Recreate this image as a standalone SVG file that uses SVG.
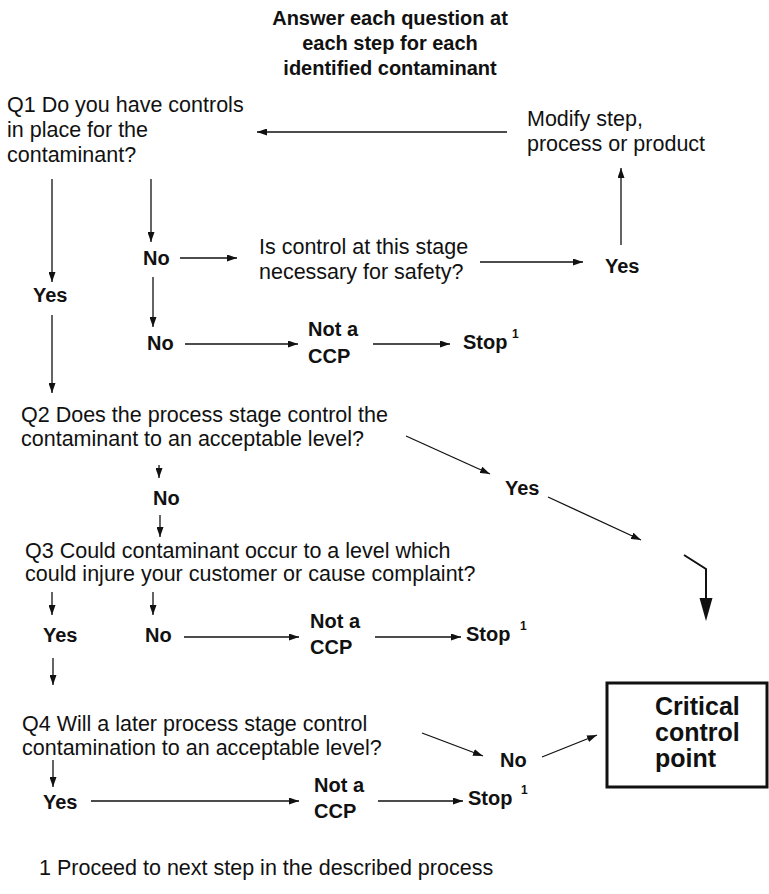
<svg xmlns="http://www.w3.org/2000/svg" width="769" height="894" viewBox="0 0 769 894">
<style>
text{font-family:"Liberation Sans",Arial,Helvetica,sans-serif;fill:#111}
.t{font-size:21.5px}
.b{font-size:20px;font-weight:bold}
.h{font-size:20px;font-weight:bold;text-anchor:middle}
.c{font-size:25px;font-weight:bold}
.s{font-size:12px;font-weight:bold}
.e line,.e polyline{stroke:#111;stroke-width:1.3;fill:none}
</style>
<defs>
<marker id="a" markerUnits="userSpaceOnUse" markerWidth="11" markerHeight="7" refX="10" refY="3.5" orient="auto">
<path d="M0,0 L10,3.5 L0,7 z" fill="#111"/>
</marker>
</defs>
<rect width="769" height="894" fill="#fff"/>
<g id="title">
<text class="h" x="390" y="25">Answer each question at</text>
<text class="h" x="390" y="50">each step for each</text>
<text class="h" x="390" y="75">identified contaminant</text>
</g>
<g id="q1">
<text class="t" x="7" y="112">Q1 Do you have controls</text>
<text class="t" x="7" y="137">in place for the</text>
<text class="t" x="7" y="162">contaminant?</text>
</g>
<g id="modify">
<text class="t" x="527" y="126">Modify step,</text>
<text class="t" x="527" y="151">process or product</text>
</g>
<g id="no1"><text class="b" x="143" y="265">No</text></g>
<g id="safety">
<text class="t" x="259" y="254">Is control at this stage</text>
<text class="t" x="259" y="279">necessary for safety?</text>
</g>
<g id="yes-q1"><text class="b" x="33" y="302">Yes</text></g>
<g id="yes-safety"><text class="b" x="605" y="273">Yes</text></g>
<g id="no2"><text class="b" x="147" y="350">No</text></g>
<g id="notccp1"><text class="b" x="308" y="336">Not a</text><text class="b" x="308" y="363">CCP</text></g>
<g id="stop1"><text class="b" x="463" y="349">Stop</text><text class="s" x="512" y="338">1</text></g>
<g id="q2">
<text class="t" x="21" y="422">Q2 Does the process stage control the</text>
<text class="t" x="21" y="446">contaminant to an acceptable level?</text>
</g>
<g id="yes-q2"><text class="b" x="505" y="495">Yes</text></g>
<g id="no-q2"><text class="b" x="153" y="505">No</text></g>
<g id="q3">
<text class="t" x="25" y="558">Q3 Could contaminant occur to a level which</text>
<text class="t" x="25" y="581">could injure your customer or cause complaint?</text>
</g>
<g id="yes-q3"><text class="b" x="43" y="642">Yes</text></g>
<g id="no-q3"><text class="b" x="145" y="642">No</text></g>
<g id="notccp2"><text class="b" x="310" y="628">Not a</text><text class="b" x="310" y="654">CCP</text></g>
<g id="stop2"><text class="b" x="466" y="641">Stop</text><text class="s" x="520" y="630">1</text></g>
<g id="q4">
<text class="t" x="22" y="731">Q4 Will a later process stage control</text>
<text class="t" x="22" y="755">contamination to an acceptable level?</text>
</g>
<g id="no-q4"><text class="b" x="500" y="767">No</text></g>
<g id="yes-q4"><text class="b" x="43" y="809">Yes</text></g>
<g id="notccp3"><text class="b" x="314" y="792">Not a</text><text class="b" x="314" y="818">CCP</text></g>
<g id="stop3"><text class="b" x="468" y="805">Stop</text><text class="s" x="521" y="794">1</text></g>
<g id="ccp">
<rect x="607" y="683" width="160" height="104" fill="#fff" stroke="#111" stroke-width="3"/>
<text class="c" x="655" y="715">Critical</text>
<text class="c" x="655" y="741">control</text>
<text class="c" x="655" y="767">point</text>
</g>
<g id="footnote"><text class="t" x="39" y="875">1 Proceed to next step in the described process</text></g>
<g id="connectors" class="e">
<line x1="507" y1="132" x2="257" y2="132" marker-end="url(#a)"/>
<line x1="621" y1="245" x2="621" y2="168" marker-end="url(#a)"/>
<line x1="52" y1="179" x2="52" y2="282" marker-end="url(#a)"/>
<line x1="151" y1="179" x2="151" y2="242" marker-end="url(#a)"/>
<line x1="180" y1="258" x2="237" y2="258" marker-end="url(#a)"/>
<line x1="480" y1="262" x2="583" y2="262" marker-end="url(#a)"/>
<line x1="153" y1="277" x2="153" y2="327" marker-end="url(#a)"/>
<line x1="185" y1="344" x2="298" y2="344" marker-end="url(#a)"/>
<line x1="373" y1="344" x2="450" y2="344" marker-end="url(#a)"/>
<line x1="52" y1="315" x2="52" y2="393" marker-end="url(#a)"/>
<line x1="406" y1="436" x2="490" y2="474" marker-end="url(#a)"/>
<line x1="548" y1="497" x2="641" y2="540" marker-end="url(#a)"/>
<polyline points="684,555 706,569 706,600" style="stroke-width:2"/>
<polygon points="699.5,598 712.5,598 706,621" fill="#111" stroke="none"/>
<line x1="159" y1="465" x2="159" y2="478" marker-end="url(#a)"/>
<line x1="160" y1="515" x2="160" y2="537" marker-end="url(#a)"/>
<line x1="52" y1="592" x2="52" y2="615" marker-end="url(#a)"/>
<line x1="153" y1="592" x2="153" y2="615" marker-end="url(#a)"/>
<line x1="184" y1="637" x2="299" y2="637" marker-end="url(#a)"/>
<line x1="375" y1="637" x2="461" y2="637" marker-end="url(#a)"/>
<line x1="53" y1="658" x2="53" y2="685" marker-end="url(#a)"/>
<line x1="422" y1="733" x2="483" y2="756" marker-end="url(#a)"/>
<line x1="542" y1="757" x2="597" y2="735" marker-end="url(#a)"/>
<line x1="53" y1="760" x2="53" y2="787" marker-end="url(#a)"/>
<line x1="91" y1="801" x2="299" y2="801" marker-end="url(#a)"/>
<line x1="378" y1="801" x2="463" y2="801" marker-end="url(#a)"/>
</g>
</svg>
